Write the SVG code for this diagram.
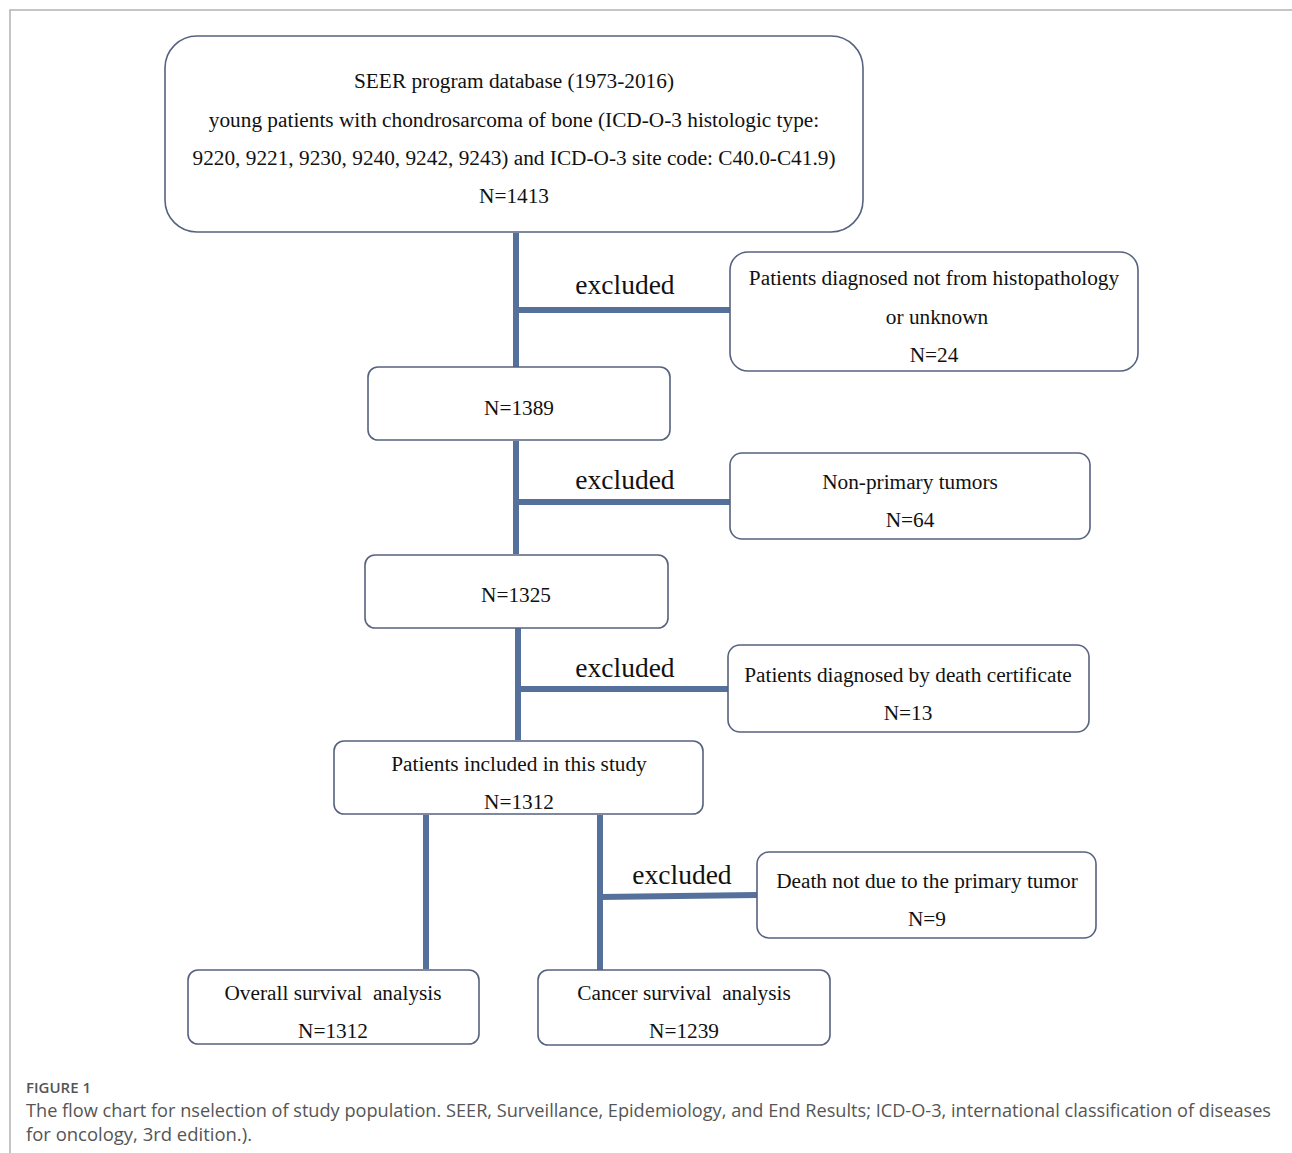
<svg xmlns="http://www.w3.org/2000/svg" width="1292" height="1153" viewBox="0 0 1292 1153">
<style>
.box{fill:#fff;stroke:#56627f;stroke-width:1.6}
.t{font-family:"Liberation Serif","Times New Roman",serif;font-size:21.3px;fill:#111;text-anchor:middle}
.ex{font-family:"Liberation Serif","Times New Roman",serif;font-size:27.5px;fill:#111;text-anchor:middle}
.c{stroke:#56709c;stroke-width:6;fill:none}
.cap{font-family:"Open Sans","Noto Sans",sans-serif;fill:#555}
</style>
<rect width="1292" height="1153" fill="#fff"/>
<path d="M10 1153 V10 H1292" fill="none" stroke="#b3b3b3" stroke-width="1.5"/>
<g id="connectors">
<path class="c" d="M516 233 V367 M516 310 H730"/>
<path class="c" d="M516 441 V554 M516 502 H730"/>
<path class="c" d="M518 628 V740 M518 689 H728"/>
<path class="c" d="M426 815 V969 M600 815 V970 M600 897 L757 895"/>
<text class="ex" x="625" y="294">excluded</text>
<text class="ex" x="625" y="489">excluded</text>
<text class="ex" x="625" y="677">excluded</text>
<text class="ex" x="682" y="884">excluded</text>
</g>
<g id="n-seer">
<rect class="box" x="165" y="36" width="698" height="196" rx="32"/>
<text class="t" x="514" y="88">SEER program database (1973-2016)</text>
<text class="t" x="514" y="127">young patients with chondrosarcoma of bone (ICD-O-3 histologic type:</text>
<text class="t" x="514" y="165">9220, 9221, 9230, 9240, 9242, 9243) and ICD-O-3 site code: C40.0-C41.9)</text>
<text class="t" x="514" y="203">N=1413</text>
</g>
<g id="n-ex1">
<rect class="box" x="730" y="252" width="408" height="119" rx="18"/>
<text class="t" x="934" y="285">Patients diagnosed not from histopathology</text>
<text class="t" x="937" y="324">or unknown</text>
<text class="t" x="934" y="362">N=24</text>
</g>
<g id="n-1389">
<rect class="box" x="368" y="367" width="302" height="73" rx="10"/>
<text class="t" x="519" y="415">N=1389</text>
</g>
<g id="n-ex2">
<rect class="box" x="730" y="453" width="360" height="86" rx="12"/>
<text class="t" x="910" y="489">Non-primary tumors</text>
<text class="t" x="910" y="527">N=64</text>
</g>
<g id="n-1325">
<rect class="box" x="365" y="555" width="303" height="73" rx="10"/>
<text class="t" x="516" y="602">N=1325</text>
</g>
<g id="n-ex3">
<rect class="box" x="728" y="645" width="361" height="87" rx="12"/>
<text class="t" x="908" y="682">Patients diagnosed by death certificate</text>
<text class="t" x="908" y="720">N=13</text>
</g>
<g id="n-included">
<rect class="box" x="334" y="741" width="369" height="73" rx="10"/>
<text class="t" x="519" y="771">Patients included in this study</text>
<text class="t" x="519" y="809">N=1312</text>
</g>
<g id="n-ex4">
<rect class="box" x="757" y="852" width="339" height="86" rx="12"/>
<text class="t" x="927" y="888">Death not due to the primary tumor</text>
<text class="t" x="927" y="926">N=9</text>
</g>
<g id="n-overall">
<rect class="box" x="188" y="970" width="291" height="74" rx="10"/>
<text class="t" x="333" y="1000" xml:space="preserve">Overall survival  analysis</text>
<text class="t" x="333" y="1038">N=1312</text>
</g>
<g id="n-cancer">
<rect class="box" x="538" y="970" width="292" height="75" rx="10"/>
<text class="t" x="684" y="1000" xml:space="preserve">Cancer survival  analysis</text>
<text class="t" x="684" y="1038">N=1239</text>
</g>
<g id="caption">
<text class="cap" x="26" y="1093" font-size="15" font-weight="600" fill="#666">FIGURE 1</text>
<text class="cap" x="26" y="1117" font-size="18" textLength="1245" lengthAdjust="spacingAndGlyphs">The flow chart for nselection of study population. SEER, Surveillance, Epidemiology, and End Results; ICD-O-3, international classification of diseases</text>
<text class="cap" x="26" y="1141" font-size="18" textLength="226" lengthAdjust="spacingAndGlyphs">for oncology, 3rd edition.).</text>
</g>
</svg>
